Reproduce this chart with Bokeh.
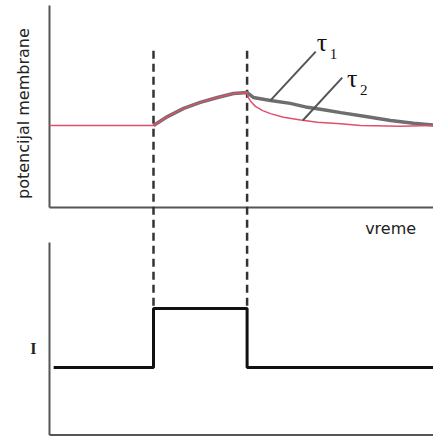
from bokeh.plotting import figure
from bokeh.models import Range1d
from bokeh.core.properties import value
from bokeh.embed import file_html
from bokeh.resources import INLINE

# ---- data (time in ms, membrane potential in mV, current in arbitrary units) ----
t_on = 20.0
t_off = 38.0
t_end = 75.4

rest_t = [0.0, 20.0]
rest_v = [-70.0, -70.0]

rise_t = [20.0, 22.7, 25.8, 29.0, 32.3, 35.4, 38.0]
rise_v = [-70.0, -67.3, -64.8, -63.0, -61.5, -60.3, -60.0]

tau1_t = [38.0, 39.2, 42.5, 46.3, 49.6, 52.7, 56.0, 60.8, 65.6, 70.0, 74.8]
tau1_v = [-60.0, -61.5, -62.4, -63.3, -64.5, -65.2, -66.1, -67.3, -68.5, -69.3, -70.0]

tau2_t = [38.0, 38.2, 38.8, 39.6, 41.0, 42.5, 45.0, 48.3, 51.5, 56.0, 59.8, 67.5, 74.8]
tau2_v = [-60.0, -61.5, -62.9, -64.2, -65.5, -66.4, -67.5, -68.3, -69.0, -69.5, -70.0, -70.2, -70.0]

pulse_t = [0.8, t_on, t_on, t_off, t_off, t_end]
pulse_i = [0.0, 0.0, 1.0, 1.0, 0.0, 0.0]

# ---- frame / ranges ----
W, H = 433, 436
x_range = Range1d(-9.423, 73.846)
y_range = Range1d(-164.242, -32.121)       # potential (top panel)
i_range = Range1d(-1.1695, 6.2203)         # current (bottom panel)

p = figure(width=W, height=H, x_range=x_range, y_range=y_range,
           output_backend="svg", toolbar_location=None,
           x_axis_location=None, y_axis_location=None,
           min_border=0, outline_line_color=None)
p.extra_y_ranges = {"cur": i_range}
p.xgrid.visible = False
p.ygrid.visible = False
p.background_fill_color = "white"
p.border_fill_color = "white"

axis_col = "#555555"
# top panel axes
v_axis_bottom = -94.85
v_axis_top = -33.6
p.line([0, 0], [v_axis_top, v_axis_bottom], line_color=axis_col, line_width=2)
p.line([0, t_end], [v_axis_bottom, v_axis_bottom], line_color=axis_col, line_width=2)
# bottom panel axes
i_axis_bottom = -1.144
i_axis_top = 2.12
p.line([0, 0], [i_axis_top, i_axis_bottom], line_color=axis_col, line_width=2, y_range_name="cur")
p.line([0, t_end], [i_axis_bottom, i_axis_bottom], line_color=axis_col, line_width=2, y_range_name="cur")

# dashed markers for stimulus on/off
for tt in (t_on, t_off):
    p.line([tt, tt], [5.37, 1.0], line_color="#333333", line_width=2.5,
           line_dash="8 5", y_range_name="cur")

# membrane potential curves
p.line(rise_t + tau1_t[1:], rise_v + tau1_v[1:], line_color="#6e6e6e", line_width=3.5)
p.line(rest_t + rise_t[1:] + tau2_t[1:], rest_v + rise_v[1:] + tau2_v[1:],
       line_color="#e0506a", line_width=1.5)

# leader lines
p.line([42.5, 51.2], [-62.4, -47.6], line_color="#555555", line_width=2)
p.line([48.7, 56.3], [-68.5, -55.5], line_color="#555555", line_width=2)

serif = value("Liberation Serif")
p.text(x=[51.4], y=[-70 + (125 - 42) / 3.3], text=["τ"],
       text_font=serif, text_font_size="26px", text_align="left",
       text_baseline="alphabetic", text_color="#111111")
p.text(x=[53.9], y=[-70 + (125 - 53) / 3.3], text=["1"],
       text_font=serif, text_font_size="15px", text_align="left",
       text_baseline="alphabetic", text_color="#111111")
p.text(x=[57.2], y=[-70 + (125 - 78) / 3.3], text=["τ"],
       text_font=serif, text_font_size="26px", text_align="left",
       text_baseline="alphabetic", text_color="#111111")
p.text(x=[59.7], y=[-70 + (125 - 89) / 3.3], text=["2"],
       text_font=serif, text_font_size="15px", text_align="left",
       text_baseline="alphabetic", text_color="#111111")

# current step
p.line(pulse_t, pulse_i, line_color="#111111", line_width=3, y_range_name="cur")

sans = value("DejaVu Sans")
p.text(x=[-5.0], y=[-66.4], text=["potencijal membrane"], angle=1.5708,
       text_font=sans, text_font_size="16px", text_align="center",
       text_baseline="middle", text_color="#222222")
p.text(x=[65.6], y=[-101.2], text=["vreme"],
       text_font=sans, text_font_size="16px", text_align="center",
       text_baseline="middle", text_color="#222222")
p.text(x=[-3.1], y=[0.32], text=["I"], y_range_name="cur",
       text_font=value("Liberation Serif"), text_font_size="16px",
       text_font_style="bold", text_align="center", text_baseline="middle",
       text_color="#222222")

open("out.html", "w").write(file_html(p, INLINE))
